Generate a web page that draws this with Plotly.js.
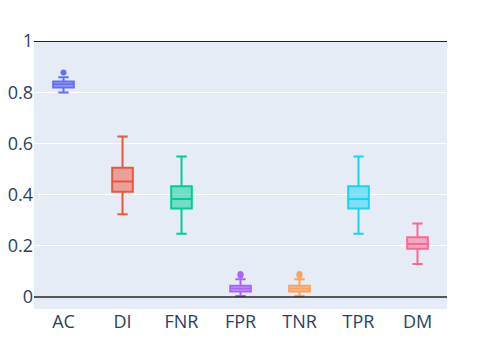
<!DOCTYPE html>
<html>
<head>
<meta charset="utf-8">
<script src="https://cdn.plot.ly/plotly-3.0.1.min.js"></script>
<style>
  html, body { margin: 0; padding: 0; background: #fff; }
  #chart { width: 482px; height: 344px; }
</style>
</head>
<body>
<div id="chart"></div>
<script>
// summary stats, one entry per metric
const metrics    = ['AC', 'DI', 'FNR', 'FPR', 'TNR', 'TPR', 'DM'];
const lowerFence = [0.799, 0.323, 0.247, 0.004, 0.004, 0.247, 0.129];
const q1         = [0.818, 0.411, 0.346, 0.021, 0.021, 0.346, 0.188];
const median     = [0.831, 0.451, 0.383, 0.033, 0.033, 0.383, 0.207];
const q3         = [0.842, 0.505, 0.433, 0.044, 0.044, 0.433, 0.233];
const upperFence = [0.858, 0.627, 0.549, 0.069, 0.069, 0.549, 0.287];
const outliers   = [[0.877], [], [], [0.084, 0.09], [0.084, 0.09], [], []];

const colors = ['#636efa', '#EF553B', '#00cc96', '#ab63fa', '#FFA15A', '#19d3f3', '#FF6692'];

const traces = [];
metrics.forEach((m, i) => {
  traces.push({
    type: 'box',
    name: m,
    x: [m],
    q1: [q1[i]], median: [median[i]], q3: [q3[i]],
    lowerfence: [lowerFence[i]], upperfence: [upperFence[i]],
    marker: { color: colors[i] },
    line: { color: colors[i] },
    showlegend: false,
  });
  if (outliers[i].length) {
    traces.push({
      type: 'scatter', mode: 'markers',
      x: outliers[i].map(() => m), y: outliers[i],
      marker: { color: colors[i], size: 6 },
      showlegend: false, hoverinfo: 'y',
    });
  }
});

const layout = {
  width: 482, height: 344,
  margin: { l: 34, r: 35, t: 41, b: 35 },
  paper_bgcolor: '#fff',
  plot_bgcolor: '#E5ECF6',
  font: { family: 'Open Sans, sans-serif', size: 18, color: '#2a3f5f' },
  showlegend: false,
  boxgap: 0.5,
  xaxis: {
    type: 'category', categoryorder: 'array', categoryarray: metrics,
    showgrid: false, zeroline: false, ticks: '',
  },
  yaxis: {
    range: [-0.047, 1],
    tickvals: [0, 0.2, 0.4, 0.6, 0.8, 1],
    gridcolor: '#fff', gridwidth: 1, zeroline: false, ticks: '',
  },
  shapes: [
    { type: 'line', xref: 'paper', x0: 0, x1: 1, y0: 0, y1: 0, line: { color: '#222', width: 1.5 } },
    { type: 'line', xref: 'paper', x0: 0, x1: 1, y0: 1, y1: 1, line: { color: '#222', width: 2 } },
  ],
};

Plotly.newPlot('chart', traces, layout, { displayModeBar: false, staticPlot: true });
</script>
</body>
</html>
